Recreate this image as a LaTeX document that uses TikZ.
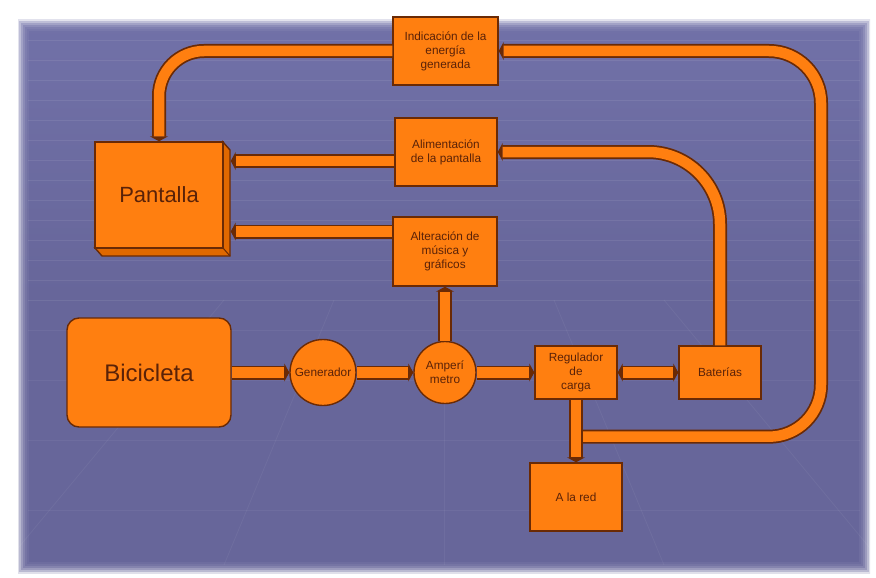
\documentclass[tikz,border=0pt]{standalone}
\usepackage{fontspec}
\setmainfont{Liberation Sans}
\usetikzlibrary{arrows.meta,calc,shapes.geometric}
\definecolor{bgp}{HTML}{67669A}
\definecolor{bgtop}{HTML}{7171A8}
\definecolor{orng}{HTML}{FF7F10}
\definecolor{orngdk}{HTML}{E06800}
\definecolor{edge}{HTML}{6A2A05}
\definecolor{txt}{HTML}{5A2208}
\tikzset{
  box/.style={draw=edge, line width=1.4pt, fill=orng, text=txt, align=center,
    font=\fontsize{11.8}{14}\selectfont, inner sep=2pt},
  roundnode/.style={box, circle},
  conn/.style={draw=edge, line width=14pt, line cap=butt,
    -{Triangle[length=5pt,width=18pt]},
    postaction={draw=orng, line width=10.5pt, -, shorten >=5pt}},
  connboth/.style={draw=edge, line width=14pt, line cap=butt,
    {Triangle[length=5pt,width=18pt]}-{Triangle[length=5pt,width=18pt]},
    postaction={draw=orng, line width=10.5pt, -, shorten >=5pt, shorten <=5pt}},
  gridline/.style={draw=white, opacity=0.08, line width=0.8pt},
  gridfaint/.style={draw=white, opacity=0.05, line width=0.8pt}
}
\begin{document}
\begin{tikzpicture}[x=1pt,y=-1pt]
\useasboundingbox (0,0) rectangle (876,578);
% background
\fill[white] (0,0) rectangle (876,578);
\shade[top color=bgtop, bottom color=bgp, middle color=bgp] (18,20) rectangle (870,573);
\foreach \i/\o in {0/0.8,2/0.55,4/0.35,6/0.2,8/0.1,10/0.05}
  \draw[white, opacity=\o, line width=2.2pt] (18+\i,20+\i) rectangle (870-\i,573-\i);
% faint grid
\foreach \yy in {40,60,...,300} \draw[gridline] (28,\yy) -- (860,\yy);
\foreach \yy in {330,380,440,510} \draw[gridfaint] (28,\yy) -- (860,\yy);
\foreach \xx in {-400,-200,0,200,400} \draw[gridfaint] (444+\xx*0.55,300) -- (444+\xx*1.1,565);

% nodes
\node[box, minimum width=105pt, minimum height=68pt] (ind) at (445.5,51) {Indicación de la\\energía\\generada};
\node[box, minimum width=102pt, minimum height=68pt] (ali) at (446,152) {Alimentación\\de la pantalla};
\node[box, minimum width=104pt, minimum height=69pt] (alt) at (445,251.5) {Alteración de\\música y\\gráficos};
% Pantalla 3D box
\coordinate (psw) at (95,248);
\coordinate (pse) at (223,248);
\coordinate (pne) at (223,142);
\filldraw[fill=orngdk, draw=edge, line width=1.4pt]
  (psw) -- (pse) -- (pne) -- ($(pne)+(7,8)$) -- ($(pse)+(7,8)$) -- ($(psw)+(7,8)$) -- cycle;
\draw[edge, line width=1pt] (pse) -- ($(pse)+(7,8)$);
\node[box, minimum width=128pt, minimum height=106pt, font=\fontsize{22}{26}\selectfont] (pant) at (159,195) {Pantalla};
\coordinate (pantR) at ($(pant.east)+(7,0)$);
\node[box, rounded corners=12pt, minimum width=164pt, minimum height=109pt, font=\fontsize{24}{28}\selectfont] (bici) at (149,372.5) {Bicicleta};
\node[roundnode, minimum size=66pt, inner sep=0pt] (gen) at (323,372.5) {Generador};
\node[roundnode, minimum size=62pt, inner sep=0pt] (amp) at (445,372.5) {Amperí\\metro};
\node[box, minimum width=82pt, minimum height=53pt] (reg) at (576,372.5) {Regulador\\de\\carga};
\node[box, minimum width=82pt, minimum height=53pt] (bat) at (720,372.5) {Baterías};
\node[box, minimum width=92pt, minimum height=68pt] (red) at (576,497) {A la red};

% connectors
\draw[conn] (bici.east) -- (gen.west);
\draw[conn] (gen.east) -- (amp.west);
\draw[conn] (amp.east) -- (reg.west);
\draw[connboth] (reg.east) -- (bat.west);
\draw[conn] (amp.north) -- (alt.south);
\draw[conn] (reg.south) -- (red.north);
\draw[conn, rounded corners=72pt] (bat.north) |- (ali.east);
\coordinate (a1) at ($(ali.west)+(0,9)$);
\draw[conn] (a1) -- (a1 -| pantR);
\coordinate (a2) at ($(alt.west)+(0,-20)$);
\draw[conn] (a2) -- (a2 -| pantR);
\draw[conn, rounded corners=45pt] (ind.west) -| (pant.north);
\coordinate (j1) at ($(reg.south)+(7,37)$);
\coordinate (c2) at (821,51);
\coordinate (c1) at (c2 |- j1);
\draw[conn, rounded corners=52pt] (j1) -- (c1) -- (c2) -- (ind.east);
\end{tikzpicture}
\end{document}
